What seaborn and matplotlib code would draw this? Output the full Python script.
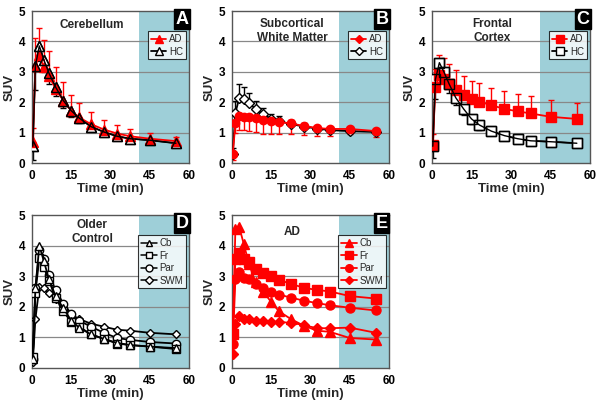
import numpy as np
import pandas as pd
import matplotlib
matplotlib.use("Agg")
import matplotlib.pyplot as plt
import seaborn as sns

sns.set_style("white")
plt.rcParams['font.family'] = ['Liberation Sans', 'DejaVu Sans']

time = [0.3, 1.3, 2.8, 4.5, 6.5, 9, 12, 15, 18, 22.5, 27.5, 32.5, 37.5, 45, 55]

# Panel A: Cerebellum
a_ad = [0.70, 3.20, 3.55, 3.15, 2.85, 2.45, 2.05, 1.72, 1.50, 1.28, 1.10, 0.97, 0.88, 0.80, 0.72]
a_ad_err = [0.45, 0.90, 0.90, 0.90, 0.85, 0.70, 0.60, 0.52, 0.46, 0.40, 0.30, 0.28, 0.25, 0.20, 0.15]
a_hc = [0.55, 3.20, 3.85, 3.40, 2.95, 2.50, 2.05, 1.72, 1.48, 1.20, 1.02, 0.88, 0.80, 0.75, 0.65]
a_hc_err = [0.45, 0.80, 0.50, 0.40, 0.35, 0.30, 0.25, 0.20, 0.18, 0.15, 0.12, 0.10, 0.10, 0.10, 0.10]

# Panel B: Subcortical White Matter
b_ad = [0.30, 1.30, 1.55, 1.52, 1.50, 1.47, 1.42, 1.38, 1.35, 1.30, 1.22, 1.15, 1.12, 1.12, 1.05]
b_ad_err = [0.20, 0.30, 0.45, 0.45, 0.45, 0.45, 0.45, 0.42, 0.40, 0.35, 0.30, 0.25, 0.22, 0.18, 0.20]
b_hc = [0.30, 1.65, 2.15, 2.10, 1.97, 1.78, 1.60, 1.45, 1.38, 1.28, 1.20, 1.13, 1.08, 1.05, 1.02]
b_hc_err = [0.20, 0.40, 0.45, 0.40, 0.33, 0.25, 0.20, 0.17, 0.15, 0.12, 0.10, 0.10, 0.10, 0.10, 0.10]

# Panel C: Frontal Cortex
c_ad = [0.60, 2.50, 2.90, 2.75, 2.60, 2.40, 2.25, 2.10, 2.02, 1.90, 1.78, 1.70, 1.63, 1.52, 1.45]
c_ad_err = [0.35, 0.60, 0.65, 0.70, 0.65, 0.65, 0.60, 0.60, 0.60, 0.58, 0.58, 0.56, 0.56, 0.56, 0.52]
c_hc = [0.55, 2.75, 3.30, 3.00, 2.60, 2.15, 1.78, 1.45, 1.25, 1.05, 0.90, 0.80, 0.73, 0.70, 0.65]
c_hc_err = [0.40, 0.65, 0.40, 0.35, 0.30, 0.25, 0.20, 0.18, 0.15, 0.12, 0.10, 0.10, 0.10, 0.10, 0.10]

# Panel D: Older Control
d_cb = [0.30, 2.60, 4.00, 3.50, 2.90, 2.35, 1.95, 1.55, 1.32, 1.10, 0.95, 0.82, 0.75, 0.70, 0.65]
d_fr = [0.35, 2.45, 3.60, 3.30, 2.85, 2.30, 1.85, 1.50, 1.35, 1.10, 0.95, 0.80, 0.75, 0.70, 0.62]
d_par = [0.30, 2.60, 3.85, 3.55, 3.05, 2.55, 2.10, 1.78, 1.55, 1.35, 1.15, 0.98, 0.92, 0.85, 0.80]
d_swm = [0.20, 1.60, 2.65, 2.60, 2.45, 2.25, 2.00, 1.75, 1.60, 1.45, 1.35, 1.25, 1.22, 1.15, 1.10]

# Panel E: AD
e_cb = [1.20, 4.55, 4.60, 4.05, 3.40, 2.80, 2.50, 2.15, 1.85, 1.60, 1.38, 1.22, 1.18, 0.98, 0.93]
e_fr = [1.10, 3.55, 3.75, 3.55, 3.45, 3.25, 3.10, 3.00, 2.88, 2.75, 2.62, 2.55, 2.50, 2.35, 2.27]
e_par = [0.78, 2.90, 3.15, 2.95, 2.90, 2.75, 2.60, 2.50, 2.40, 2.30, 2.20, 2.12, 2.05, 1.97, 1.88]
e_swm = [0.45, 1.45, 1.70, 1.60, 1.60, 1.55, 1.52, 1.50, 1.50, 1.48, 1.40, 1.30, 1.30, 1.32, 1.15]

RED = '#ff0000'
SHADE = '#9ecfd8'
W, H = 601, 409
fig = plt.figure(figsize=(W / 100, H / 100), dpi=100)


def make_ax(l, r, t, b):
    return fig.add_axes([l / W, 1 - b / H, (r - l) / W, (b - t) / H])


def style(ax, title, letter, ty=4.55):
    ax.axvspan(41, 60, color=SHADE, zorder=0, lw=0)
    ax.set_xlim(0, 60)
    ax.set_ylim(0, 5)
    ax.set_xticks([0, 15, 30, 45, 60])
    ax.set_yticks([0, 1, 2, 3, 4, 5])
    for y in [1, 2, 3, 4]:
        ax.axhline(y, color='#888888', lw=0.9, zorder=0.5)
    for s in ax.spines.values():
        s.set_color('#555555')
        s.set_linewidth(1.0)
    ax.tick_params(axis='both', direction='out', length=3, width=0.8,
                   labelsize=8.5, colors='#000000', pad=2)
    for lab in ax.get_xticklabels() + ax.get_yticklabels():
        lab.set_fontweight('bold')
    ax.set_xlabel('Time (min)', fontsize=9.5, fontweight='bold', labelpad=1)
    ax.set_ylabel('SUV', fontsize=9.5, fontweight='bold', labelpad=2)
    ax.text(23, ty, title, ha='center', va='center', fontsize=8.5,
            fontweight='bold', linespacing=1.25, zorder=5)
    ax.text(0.955, 0.945, letter, transform=ax.transAxes, ha='center', va='center',
            fontsize=13, fontweight='bold', color='white', zorder=6,
            bbox=dict(boxstyle='square,pad=0.08', fc='black', ec='black'))


def series(ax, x, y, color, marker, filled, ms=6.5, err=None, lolims=False,
           face=None, lw=1.3):
    df = pd.DataFrame({'Time': x, 'SUV': y})
    if err is not None:
        e = np.array(err)
        if lolims:
            yerr = [np.zeros_like(e), e]
        else:
            yerr = [e, np.zeros_like(e)]
        ax.errorbar(x, y, yerr=yerr, fmt='none', ecolor=color, elinewidth=1.0,
                    capsize=2.5, capthick=1.0, zorder=2)
    if face is None:
        face = color if filled else 'white'
    sns.lineplot(data=df, x='Time', y='SUV', ax=ax, color=color, lw=lw,
                 marker=marker, markersize=ms,
                 markerfacecolor=face,
                 markeredgecolor='black' if not filled else color,
                 markeredgewidth=1.0, zorder=3, legend=False)


def legend(ax, handles, y_top=0.88):
    leg = ax.legend(handles=handles, loc='upper right', bbox_to_anchor=(0.995, y_top),
                    fontsize=7, frameon=True, fancybox=False, handlelength=1.6,
                    handletextpad=0.3, borderpad=0.3, labelspacing=0.25,
                    borderaxespad=0.2)
    leg.get_frame().set_edgecolor('black')
    leg.get_frame().set_linewidth(0.8)
    leg.get_frame().set_facecolor('white')
    leg.set_zorder(7)


def handle(ax, color, marker, ms, filled, label, lw=1.3):
    return ax.plot([], [], color=color, marker=marker, ms=ms, lw=lw,
                   mfc=color if filled else 'white',
                   mec=color if filled else 'black', label=label)[0]


# Panel A
axA = make_ax(32, 189, 11, 163)
style(axA, 'Cerebellum', 'A', ty=4.55)
series(axA, time, a_hc, 'black', '^', False, err=a_hc_err, lolims=False)
series(axA, time, a_ad, RED, '^', True, err=a_ad_err, lolims=True)
series(axA, time, a_hc, 'black', '^', False, face='none', lw=1.0)
legend(axA, [handle(axA, RED, '^', 6, True, 'AD'),
             handle(axA, 'black', '^', 6, False, 'HC')])

# Panel B
axB = make_ax(232, 389, 11, 163)
style(axB, 'Subcortical\nWhite Matter', 'B', ty=4.35)
series(axB, time, b_hc, 'black', 'D', False, ms=5, err=b_hc_err, lolims=True)
series(axB, time, b_ad, RED, 'o', True, ms=6, err=b_ad_err, lolims=False)
legend(axB, [handle(axB, RED, 'D', 4, True, 'AD'),
             handle(axB, 'black', 'D', 4, False, 'HC')])

# Panel C
axC = make_ax(432, 590, 11, 163)
style(axC, 'Frontal\nCortex', 'C', ty=4.35)
series(axC, time, c_hc, 'black', 's', False, ms=7, err=c_hc_err, lolims=False)
series(axC, time, c_ad, RED, 's', True, ms=7, err=c_ad_err, lolims=True)
series(axC, time, c_hc, 'black', 's', False, ms=7, face='none', lw=1.0)
legend(axC, [handle(axC, RED, 's', 5.5, True, 'AD'),
             handle(axC, 'black', 's', 5.5, False, 'HC')])

# Panel D
axD = make_ax(32, 189, 215, 368)
style(axD, 'Older\nControl', 'D', ty=4.45)
series(axD, time, d_swm, 'black', 'D', False, ms=4.5)
series(axD, time, d_par, 'black', 'o', False, ms=6)
series(axD, time, d_fr, 'black', 's', False, ms=6)
series(axD, time, d_cb, 'black', '^', False, ms=6)
legend(axD, [handle(axD, 'black', m, s, False, l, lw=1.1)
             for m, s, l in [('^', 5, 'Cb'), ('s', 5, 'Fr'), ('o', 5, 'Par'), ('D', 4, 'SWM')]])

# Panel E
axE = make_ax(232, 389, 215, 368)
style(axE, 'AD', 'E', ty=4.45)
series(axE, time, e_swm, RED, 'D', True, ms=5)
series(axE, time, e_par, RED, 'o', True, ms=6.5)
series(axE, time, e_fr, RED, 's', True, ms=6.5)
series(axE, time, e_cb, RED, '^', True, ms=7)
legend(axE, [handle(axE, RED, m, s, True, l)
             for m, s, l in [('^', 5.5, 'Cb'), ('s', 5.5, 'Fr'), ('o', 5.5, 'Par'), ('D', 4.5, 'SWM')]])

fig.savefig('out.png', dpi=100)
